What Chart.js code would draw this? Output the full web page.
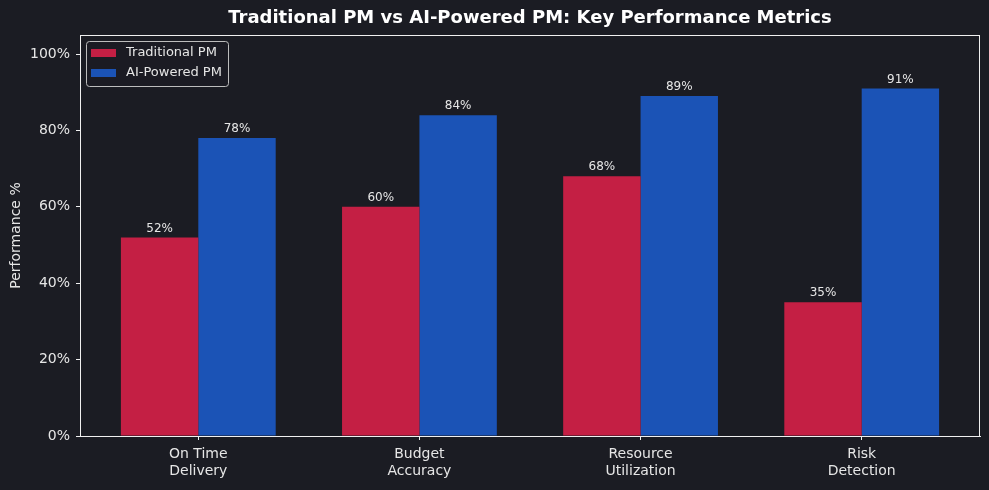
<!DOCTYPE html>
<html>
<head>
<meta charset="utf-8">
<script src="https://cdn.jsdelivr.net/npm/chart.js@4.4.1/dist/chart.umd.min.js"></script>
<style>
  html, body { margin: 0; padding: 0; background: #1b1c23; }
  #wrap { width: 989px; height: 490px; }
</style>
</head>
<body>
<div id="wrap"><canvas id="chart" width="989" height="490"></canvas></div>
<script>
// chart data
const title = 'Traditional PM vs AI-Powered PM: Key Performance Metrics';
const categories = [['On Time', 'Delivery'], ['Budget', 'Accuracy'], ['Resource', 'Utilization'], ['Risk', 'Detection']];
const traditional = [52, 60, 68, 35];
const aiPowered = [78, 84, 89, 91];
const yTicks = [0, 20, 40, 60, 80, 100];

const TEXT = '#e6e6e6';
const FONT = 'DejaVu Sans';

// value labels above bars
const valueLabels = {
    id: 'valueLabels',
    afterDatasetsDraw(chart) {
        const ctx = chart.ctx;
        ctx.save();
        ctx.font = '12px "' + FONT + '"';
        ctx.fillStyle = TEXT;
        ctx.textAlign = 'center';
        ctx.textBaseline = 'bottom';
        chart.data.datasets.forEach((ds, i) => {
            chart.getDatasetMeta(i).data.forEach((bar, j) => {
                ctx.fillText(ds.data[j].y + '%', bar.x, bar.y - 3);
            });
        });
        ctx.restore();
    }
};

// title over the plot, white frame + legend box in upper left
const frameAndLegend = {
    id: 'frameAndLegend',
    afterDraw(chart) {
        const ctx = chart.ctx;
        const a = chart.chartArea;
        ctx.save();
        ctx.font = 'bold 18px "' + FONT + '"';
        ctx.fillStyle = '#ffffff';
        ctx.textAlign = 'center';
        ctx.textBaseline = 'middle';
        ctx.fillText(title, (a.left + a.right) / 2, 18);

        ctx.strokeStyle = '#f0f0f0';
        ctx.lineWidth = 1;
        ctx.strokeRect(a.left + 0.5, a.top + 0.5, a.right - a.left - 1, a.bottom - a.top);

        const x = a.left + 6, y = a.top + 6;
        ctx.fillStyle = 'rgba(27,28,35,0.8)';
        ctx.strokeStyle = '#bdbdbd';
        ctx.beginPath();
        ctx.roundRect(x + 0.5, y + 0.5, 142, 45, 3);
        ctx.fill();
        ctx.stroke();

        ctx.font = '13px "' + FONT + '"';
        ctx.textBaseline = 'middle';
        ctx.textAlign = 'left';
        chart.data.datasets.forEach((ds, i) => {
            const cy = y + 12 + i * 20;
            ctx.fillStyle = ds.backgroundColor;
            ctx.fillRect(x + 5, cy - 4, 25, 8);
            ctx.fillStyle = TEXT;
            ctx.fillText(ds.label, x + 40, cy);
        });
        ctx.restore();
    }
};

new Chart(document.getElementById('chart'), {
    type: 'bar',
    data: {
        datasets: [
            {
                label: 'Traditional PM',
                data: traditional.map((v, i) => ({x: i, y: v})),
                backgroundColor: '#c41f44'
            },
            {
                label: 'AI-Powered PM',
                data: aiPowered.map((v, i) => ({x: i, y: v})),
                backgroundColor: '#1b53b6'
            }
        ]
    },
    options: {
        responsive: false,
        animation: false,
        categoryPercentage: 0.7,
        barPercentage: 1.0,
        layout: { padding: { left: 0, right: 9, top: 35, bottom: 0 } },
        plugins: {
            legend: { display: false },
            tooltip: { enabled: false },
            title: { display: false }
        },
        scales: {
            x: {
                type: 'linear',
                min: -0.535,
                max: 3.535,
                offset: false,
                afterBuildTicks: (scale) => {
                    scale.ticks = categories.map((c, i) => ({value: i}));
                },
                afterFit: (scale) => { scale.height = 54; },
                ticks: {
                    color: TEXT,
                    font: { family: FONT, size: 14 },
                    padding: 6,
                    maxRotation: 0,
                    autoSkip: false,
                    callback: (v) => categories[v]
                },
                grid: {
                    offset: false,
                    drawOnChartArea: false,
                    drawTicks: true,
                    tickLength: 4,
                    color: '#f0f0f0'
                },
                border: { color: '#f0f0f0' }
            },
            y: {
                min: 0,
                max: 105,
                afterBuildTicks: (scale) => {
                    scale.ticks = yTicks.map(v => ({value: v}));
                },
                afterFit: (scale) => { scale.width = 80; },
                ticks: {
                    color: TEXT,
                    font: { family: FONT, size: 14 },
                    padding: 6,
                    callback: (v) => v + '%'
                },
                grid: {
                    drawOnChartArea: false,
                    drawTicks: true,
                    tickLength: 4,
                    color: '#f0f0f0'
                },
                border: { color: '#f0f0f0' },
                title: {
                    display: true,
                    text: 'Performance %',
                    color: TEXT,
                    font: { family: FONT, size: 14 },
                    padding: { top: 8, bottom: 0 }
                }
            }
        }
    },
    plugins: [valueLabels, frameAndLegend]
});
</script>
</body>
</html>
